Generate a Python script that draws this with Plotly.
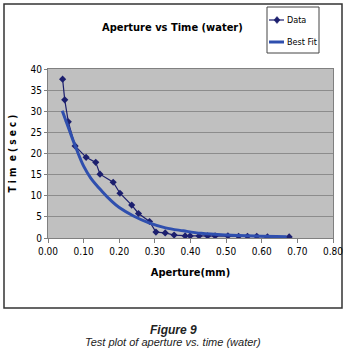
import plotly.graph_objects as go

# Measured data (aperture mm, time sec)
data_aperture = [0.041, 0.047, 0.057, 0.076, 0.107, 0.134, 0.146, 0.183, 0.202, 0.235,
                 0.254, 0.285, 0.303, 0.329, 0.354, 0.385, 0.399, 0.424, 0.448, 0.469,
                 0.505, 0.535, 0.560, 0.586, 0.616, 0.677]
data_time = [37.6, 32.7, 27.5, 21.8, 19.1, 17.9, 15.1, 13.2, 10.6, 7.8,
             5.8, 3.9, 1.4, 1.2, 0.7, 0.5, 0.5, 0.5, 0.5, 0.5,
             0.5, 0.4, 0.4, 0.4, 0.25, 0.25]

# Best fit curve points
fit_aperture = [0.040, 0.060, 0.080, 0.100, 0.120, 0.150, 0.180, 0.200, 0.240, 0.280,
                0.330, 0.380, 0.430, 0.500, 0.580, 0.670]
fit_time = [30.1, 25.5, 21.0, 17.0, 14.2, 11.2, 8.6, 7.2, 5.2, 3.7,
            2.4, 1.7, 1.1, 0.7, 0.45, 0.3]

x_ticks = [0.0, 0.1, 0.2, 0.3, 0.4, 0.5, 0.6, 0.7, 0.8]
x_tick_labels = ["0.00", "0.10", "0.20", "0.30", "0.40", "0.50", "0.60", "0.70", "0.80"]
y_ticks = [0, 5, 10, 15, 20, 25, 30, 35, 40]

NARROW = "DejaVu Sans Condensed, Liberation Sans Narrow, Arial Narrow, sans-serif"
DATA_COLOR = "#1c1f6e"
FIT_COLOR = "#2f4fae"

fig = go.Figure()
fig.add_trace(go.Scatter(
    x=data_aperture, y=data_time, name="Data", mode="lines+markers",
    line=dict(color=DATA_COLOR, width=1.2),
    marker=dict(symbol="diamond", size=5.5, color=DATA_COLOR),
    showlegend=False,
))
fig.add_trace(go.Scatter(
    x=fit_aperture, y=fit_time, name="Best Fit", mode="lines",
    line=dict(color=FIT_COLOR, width=3, shape="spline"),
    showlegend=False,
))

L, R, T, B = 48, 14, 69, 115
W, H = 347, 353
ph = H - T - B
pw = W - L - R

def px(x):
    return (x - L) / pw

def py(y):
    return (H - B - y) / ph

# manual legend geometry (pixels)
lg_x0, lg_x1, lg_y0, lg_y1 = 267, 319, 7, 53
row1, row2 = 20, 42
ln_x0, ln_x1 = 269, 284
dx, dy = 277, row1
txt_x = 285

shapes = [
    dict(type="rect", xref="paper", yref="paper",
         x0=px(4), x1=px(342), y0=py(308), y1=py(4),
         line=dict(color="#333333", width=1.5), fillcolor="rgba(0,0,0,0)", layer="below"),
    dict(type="rect", xref="paper", yref="paper",
         x0=px(lg_x0), x1=px(lg_x1), y0=py(lg_y1), y1=py(lg_y0),
         line=dict(color="#444444", width=1), fillcolor="white"),
    dict(type="line", xref="paper", yref="paper",
         x0=px(ln_x0), x1=px(ln_x1), y0=py(row1), y1=py(row1),
         line=dict(color=DATA_COLOR, width=1.2)),
    dict(type="path", xref="paper", yref="paper",
         path=f"M {px(dx)},{py(dy-3.5)} L {px(dx+3)},{py(dy)} L {px(dx)},{py(dy+3.5)} L {px(dx-3)},{py(dy)} Z",
         line=dict(color=DATA_COLOR, width=0.5), fillcolor=DATA_COLOR),
    dict(type="line", xref="paper", yref="paper",
         x0=px(ln_x0), x1=px(ln_x1), y0=py(row2), y1=py(row2),
         line=dict(color=FIT_COLOR, width=3)),
]

fig.update_layout(
    width=W, height=H,
    margin=dict(l=L, r=R, t=T, b=B, autoexpand=False),
    paper_bgcolor="white",
    plot_bgcolor="#c0c0c0",
    showlegend=False,
    xaxis=dict(
        range=[0, 0.8], tickvals=x_ticks, ticktext=x_tick_labels,
        showgrid=False, zeroline=False,
        showline=True, linecolor="#808080", linewidth=1, mirror=True,
        ticks="outside", ticklen=4, tickcolor="#808080",
        tickfont=dict(family=NARROW, size=10, color="black"),
        title=dict(text="<b>Aperture(mm)</b>", font=dict(family=NARROW, size=11, color="black"), standoff=12),
        fixedrange=True,
    ),
    yaxis=dict(
        range=[0, 40], tickvals=y_ticks,
        showgrid=True, gridcolor="#8c8c8c", gridwidth=1, zeroline=False,
        showline=True, linecolor="#808080", linewidth=1, mirror=True,
        ticks="outside", ticklen=3, tickcolor="#808080",
        tickfont=dict(family=NARROW, size=10, color="black"),
        title=dict(text="<b>T i m  e ( s e c )</b>", font=dict(family=NARROW, size=10, color="black"), standoff=12),
        fixedrange=True,
    ),
    shapes=shapes,
    annotations=[
        dict(text="<b>Aperture vs Time (water)</b>", xref="paper", yref="paper",
             x=px(172), y=py(27), xanchor="center", yanchor="middle", showarrow=False,
             font=dict(family=NARROW, size=11, color="black")),
        dict(text="Data", xref="paper", yref="paper",
             x=px(txt_x), y=py(row1), xanchor="left", yanchor="middle", showarrow=False,
             font=dict(family=NARROW, size=9, color="black")),
        dict(text="Best Fit", xref="paper", yref="paper",
             x=px(txt_x), y=py(row2), xanchor="left", yanchor="middle", showarrow=False,
             font=dict(family=NARROW, size=9, color="black")),
        dict(text="<b><i>Figure 9</i></b>", xref="paper", yref="paper",
             x=px(173), y=py(330), xanchor="center", yanchor="middle", showarrow=False,
             font=dict(family="Liberation Sans, Arial, sans-serif", size=12, color="#222222")),
        dict(text="<i>Test plot of aperture vs. time (water)</i>", xref="paper", yref="paper",
             x=px(173), y=py(342), xanchor="center", yanchor="middle", showarrow=False,
             font=dict(family="Liberation Sans, Arial, sans-serif", size=11, color="#222222")),
    ],
)

fig.write_html("out.html", config=dict(displayModeBar=False),
               post_script="document.body.style.margin='0';document.body.style.overflow='hidden';")
